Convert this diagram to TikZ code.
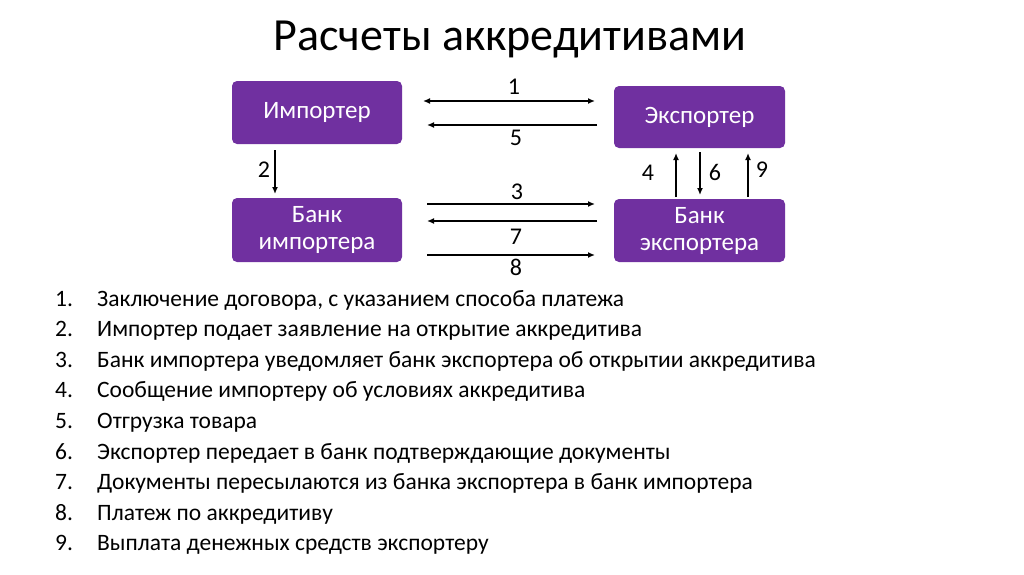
\documentclass[tikz,border=0pt]{standalone}
\usepackage{fontspec}
\setmainfont{Carlito}
\usetikzlibrary{arrows.meta}
\definecolor{boxc}{HTML}{7030A0}
\begin{document}
\begin{tikzpicture}[x=1pt,y=-1pt,
  box/.style={fill=boxc,rounded corners=5pt,text=white,font=\fontsize{25}{29}\selectfont,align=center,inner sep=0pt},
  arr/.style={-{Latex[length=7pt,width=6pt]},line width=1.6pt},
  lbl/.style={font=\fontsize{24}{28}\selectfont},
  item/.style={font=\fontsize{23.5}{28}\selectfont,anchor=base west,inner sep=0pt}]
\useasboundingbox (0,0) rectangle (1024,574);
\node[font=\fontsize{46}{54}\selectfont] (title) at (510,40) {Расчеты аккредитивами};
\node[box,minimum width=170pt,minimum height=63pt] (imp) at (317,112.5) {Импортер};
\node[box,minimum width=171pt,minimum height=62pt] (exp) at (699.5,117) {Экспортер};
\node[box,minimum width=170pt,minimum height=64pt] (bimp) at (317,230) {Банк\\[-2pt]импортера};
\node[box,minimum width=171pt,minimum height=63pt] (bexp) at (699.5,230.5) {Банк\\[-2pt]экспортера};
% horizontal
\coordinate (a1) at (423,101); \coordinate (b1) at (595,101);
\draw[arr,{Latex[length=7pt,width=6pt]}-{Latex[length=7pt,width=6pt]}] (a1) -- (b1);
\coordinate (a5) at (597,125); \coordinate (b5) at (427,125);
\draw[arr] (a5) -- (b5);
\coordinate (a3) at (427,204); \coordinate (b3) at (595,204);
\draw[arr] (a3) -- (b3);
\coordinate (a7) at (597,221); \coordinate (b7) at (427,221);
\draw[arr] (a7) -- (b7);
\coordinate (a8) at (427,255); \coordinate (b8) at (595,255);
\draw[arr] (a8) -- (b8);
% vertical
\draw[arr] (275,150) -- (275,194);
\draw[arr] (676,197) -- (676,153);
\draw[arr] (700,152) -- (700,195);
\draw[arr] (748,197) -- (748,153);
\node[lbl] (l1) at (514,87) {1};
\node[lbl] (l5) at (516,138) {5};
\node[lbl] (l2) at (264,170) {2};
\node[lbl] (l3) at (517,192) {3};
\node[lbl] (l7) at (516,237) {7};
\node[lbl] (l8) at (516,267) {8};
\node[lbl] (l4) at (648,173) {4};
\node[lbl] (l6) at (715,172) {6};
\node[lbl] (l9) at (762,170) {9};
% list
\foreach \n/\t [count=\i from 0] in {
 1/Заключение договора{,} с указанием способа платежа,
 2/Импортер подает заявление на открытие аккредитива,
 3/Банк импортера уведомляет банк экспортера об открытии аккредитива,
 4/Сообщение импортеру об условиях аккредитива,
 5/Отгрузка товара,
 6/Экспортер передает в банк подтверждающие документы,
 7/Документы пересылаются из банка экспортера в банк импортера,
 8/Платеж по аккредитиву,
 9/Выплата денежных средств экспортеру} {
 \node[item] (n\n) at (55,306+30.6*\i) {\n.};
 \node[item] (t\n) at (97,306+30.6*\i) {\t};
}
\end{tikzpicture}
\end{document}
